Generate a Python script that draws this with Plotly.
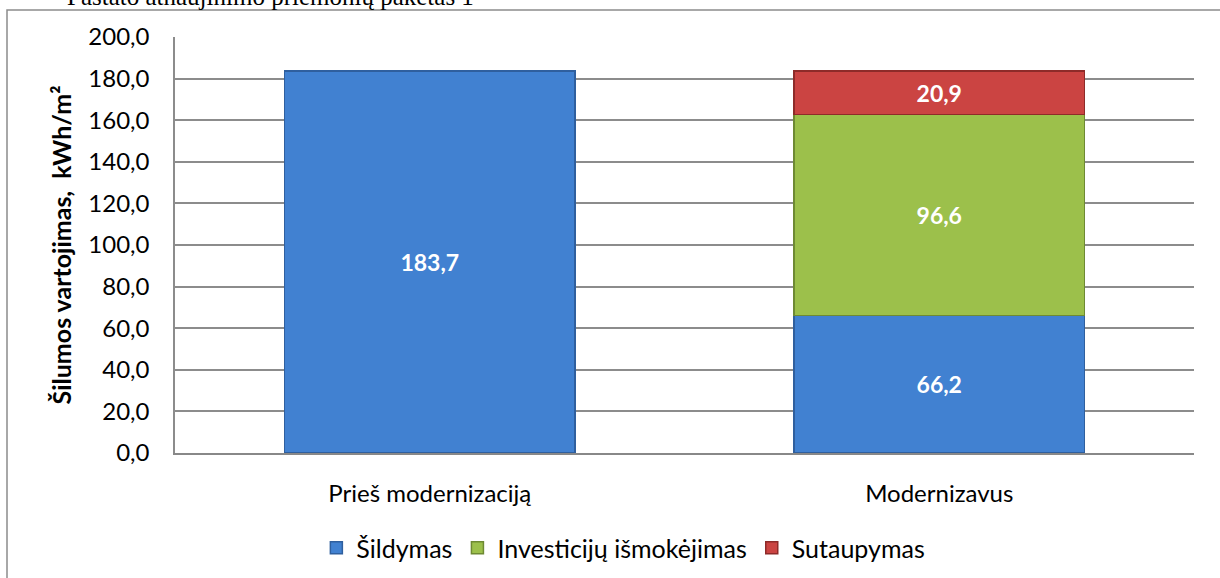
import plotly.graph_objects as go

categories = ["Prieš modernizaciją", "Modernizavus"]
sildymas = [183.7, 66.2]
investiciju = [None, 96.6]
sutaupymas = [None, 20.9]
y_ticks = [0, 20, 40, 60, 80, 100, 120, 140, 160, 180, 200]

font_family = "Lato, 'Open Sans', sans-serif"

fig = go.Figure()

def lbl(vals):
    return [("" if v is None else f"{v:.1f}".replace(".", ",")) for v in vals]

label_font = dict(color="white", size=23, family=font_family, weight="bold")

fig.add_trace(go.Bar(
    name="Šildymas", x=categories, y=sildymas,
    marker=dict(color="#4181d1", line=dict(color="#2f5f9e", width=1.5)),
    text=lbl(sildymas), textposition="inside", insidetextanchor="middle",
    textfont=label_font, constraintext="none",
))
fig.add_trace(go.Bar(
    name="Investicijų išmokėjimas", x=categories, y=investiciju,
    marker=dict(color="#9cc04b", line=dict(color="#6e8a33", width=1.5)),
    text=lbl(investiciju), textposition="inside", insidetextanchor="middle",
    textfont=label_font, constraintext="none",
))
fig.add_trace(go.Bar(
    name="Sutaupymas", x=categories, y=sutaupymas,
    marker=dict(color="#cb4442", line=dict(color="#8e2b29", width=1.5)),
    text=lbl(sutaupymas), textposition="inside", insidetextanchor="middle",
    textfont=label_font, constraintext="none",
))

L, R, T, B = 175, 26, 37, 125
W, H = 1220, 578
pw, ph = W - L - R, H - T - B

fig.update_layout(
    width=W, height=H,
    barmode="stack", bargap=0.43,
    separators=",.",
    paper_bgcolor="white", plot_bgcolor="white",
    margin=dict(l=L, r=R, t=T, b=B, autoexpand=False),
    font=dict(family=font_family, size=24, color="black"),
    showlegend=True,
    legend=dict(orientation="h", x=0.44, xanchor="center", y=-(548 - 453) / ph, yanchor="middle",
                font=dict(size=25), traceorder="normal", itemwidth=30, tracegroupgap=0),
    xaxis=dict(showgrid=False, showline=True, linecolor="#888888", linewidth=2,
               ticks="", tickfont=dict(size=24), ticklabelstandoff=18),
    yaxis=dict(range=[0, 200], tickvals=y_ticks, tickformat=".1f",
               showgrid=True, gridcolor="#8c8c8c", gridwidth=1.5,
               showline=True, linecolor="#8c8c8c", linewidth=1.5,
               ticks="", tickfont=dict(size=24), ticklabelstandoff=19,
               zeroline=False,
               title=dict(text="<b>Šilumos vartojimas,  kWh/m²</b>", font=dict(size=25), standoff=10)),
    shapes=[dict(type="rect", xref="paper", yref="paper",
                 x0=(7 - L) / pw, x1=(W + 20 - L) / pw,
                 y0=-(H + 20 - T - ph) / ph - 0.2, y1=1 + (T - 10) / ph,
                 line=dict(color="#8c8c8c", width=1.5), fillcolor="rgba(0,0,0,0)", layer="below")],
    annotations=[dict(text="Pastato atnaujinimo priemonių paketas 1", xref="paper", yref="paper",
                      x=(65 - L) / pw, xanchor="left", y=1 + (T + 4) / ph, yanchor="middle",
                      showarrow=False, font=dict(family="'Liberation Serif', serif", size=25, color="black"))],
)

fig.write_html("out.html", config={"displayModeBar": False},
               post_script="document.body.style.margin='0';document.body.style.overflow='hidden';")
